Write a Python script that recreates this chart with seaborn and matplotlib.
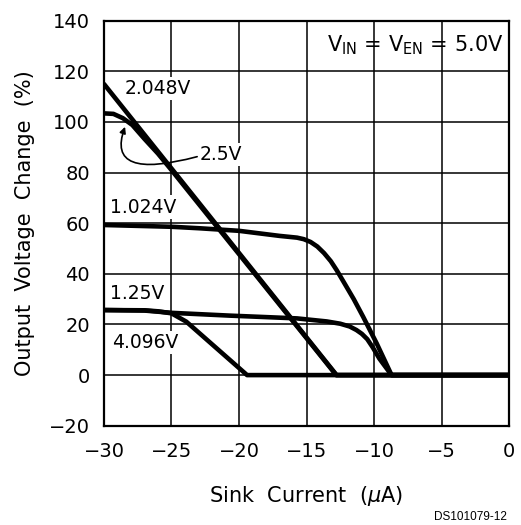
import matplotlib
matplotlib.use("Agg")
import matplotlib.pyplot as plt
import seaborn as sns
import pandas as pd
import numpy as np

# curve data (x = sink current in uA, y = % change)
x_1024 = [-30, -25, -22.9, -20, -17, -15.7, -15.2, -14.7, -14.2, -13.7, -13.2, -12.77, -12.27,
          -11.5, -10.8, -9.8, -8.7, 0]
y_1024 = [59.3, 58.6, 58.0, 57.0, 55.0, 54.3, 53.7, 52.6, 50.8, 48.2, 45.0, 41.5, 37.0,
          30.0, 23.0, 12.5, 0, 0]

x_125 = [-30, -27, -25, -20.7, -18.4, -15.7, -13.5, -12.5, -11.8, -11.3, -10.9, -10.5, -10.1, -9.6, -8.7, 0]
y_125 = [25.7, 25.5, 24.6, 23.5, 23.0, 22.4, 21.2, 20.3, 19.2, 17.8, 16.3, 14.2, 11.0, 6.5, 0, 0]

x_2048 = [-30, -12.77, 0]
y_2048 = [115, 0, 0]

x_25 = [-30, -29.3, -28.6, -27.9, -27, -26, -25, -12.8, 0]
y_25 = [103.4, 103.2, 101.5, 98.8, 93.3, 87.5, 81.0, 0, 0]

x_4096 = [-30, -27, -26, -25, -23.9, -19.4, 0]
y_4096 = [25.7, 25.6, 25.2, 24.4, 21.1, 0, 0]

series_names = ["1.024V", "1.25V", "2.048V", "2.5V", "4.096V"]
xs = [x_1024, x_125, x_2048, x_25, x_4096]
ys = [y_1024, y_125, y_2048, y_25, y_4096]

x_ticks = [-30, -25, -20, -15, -10, -5, 0]
y_ticks = [-20, 0, 20, 40, 60, 80, 100, 120, 140]

rows = []
for name, xv, yv in zip(series_names, xs, ys):
    for a, b in zip(xv, yv):
        rows.append({"series": name, "x": a, "y": b})
df = pd.DataFrame(rows)

sns.set_style("white")
plt.rcParams['font.family'] = ['DejaVu Sans']
plt.rcParams['mathtext.fontset'] = 'dejavusans'
plt.rcParams['text.color'] = 'black'
plt.rcParams['axes.labelcolor'] = 'black'

fig = plt.figure(figsize=(5.21, 5.25), dpi=100)
ax = fig.add_axes([0.1996, 0.1891, 0.7774, 0.7714])

sns.lineplot(data=df, x="x", y="y", hue="series", units="series", estimator=None,
             sort=False, palette={n: "black" for n in series_names},
             linewidth=3.3, legend=False, ax=ax, zorder=3)

ax.set_xlim(-30, 0)
ax.set_ylim(-20, 140)
ax.set_xticks(x_ticks)
ax.set_yticks(y_ticks)
ax.set_xticklabels(["\u2212" + str(abs(v)) if v < 0 else str(v) for v in x_ticks])
ax.set_yticklabels(["\u2212" + str(abs(v)) if v < 0 else str(v) for v in y_ticks])
ax.grid(True, color="black", linewidth=1.1, zorder=1)
ax.set_axisbelow(True)
for s in ax.spines.values():
    s.set_color("black")
    s.set_linewidth(1.6)
    s.set_zorder(4)
ax.tick_params(axis='x', length=0, pad=12, labelsize=14, colors='black')
ax.tick_params(axis='y', length=0, pad=10, labelsize=14, colors='black')

ax.set_xlabel(r"Sink  Current  ($\mu$A)", fontsize=15, labelpad=16)
ax.set_ylabel("Output  Voltage  Change  (%)", fontsize=15, labelpad=10)

box = dict(facecolor="white", edgecolor="none", pad=1.5)
ax.text(-28.44, 113.4, "2.048V", fontsize=13.5, ha="left", va="center", bbox=box, zorder=5)
ax.text(-22.9, 87, "2.5V", fontsize=13.5, ha="left", va="center", bbox=box, zorder=5)
ax.text(-29.55, 66.4, "1.024V", fontsize=13.5, ha="left", va="center", bbox=box, zorder=5)
ax.text(-29.55, 32.4, "1.25V", fontsize=13.5, ha="left", va="center", bbox=box, zorder=5)
ax.text(-29.4, 13, "4.096V", fontsize=13.5, ha="left", va="center", bbox=box, zorder=5)
ax.text(-0.44, 130.4, r"V$_{\rm IN}$ = V$_{\rm EN}$ = 5.0V", fontsize=15, ha="right", va="center", zorder=5)

ax.annotate("", xy=(-28.44, 98.1), xytext=(-23.1, 86.3),
            arrowprops=dict(arrowstyle="-|>", color="black", lw=1.2, mutation_scale=9,
                            shrinkA=0, shrinkB=0,
                            connectionstyle="angle3,angleA=195,angleB=70"),
            zorder=6)

fig.text(507 / 521, 1 - 517 / 525, "DS101079-12", fontsize=8.5, family="Liberation Sans",
         ha="right", va="center")

fig.savefig("out.png", dpi=100)
